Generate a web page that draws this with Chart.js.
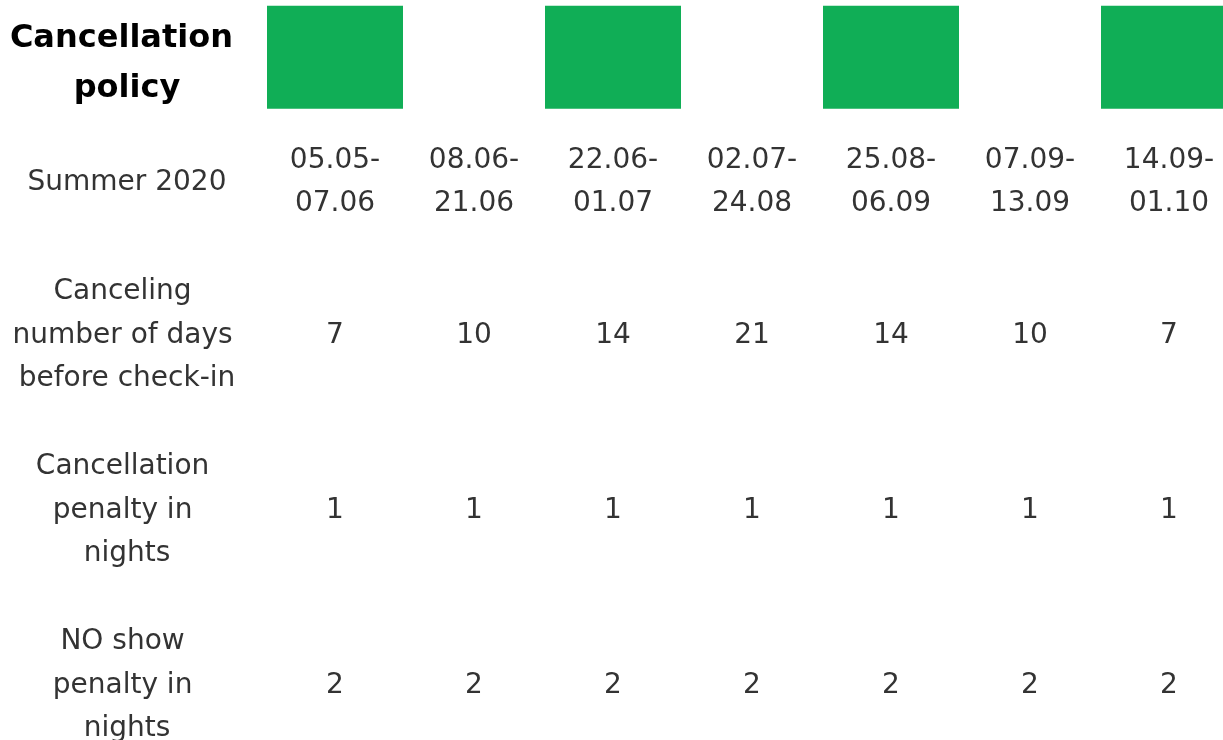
<!DOCTYPE html>
<html>
<head>
<meta charset="utf-8">
<title>Cancellation policy</title>
<script src="https://cdn.jsdelivr.net/npm/chart.js"></script>
<style>
  html, body { margin: 0; padding: 0; background: #fff; overflow: hidden; }
</style>
</head>
<body>
<canvas id="policyChart" width="1240" height="740"></canvas>
<script>
// table content
const headerLabel = ['Cancellation', 'policy'];
const periods = [
  ['05.05-', '07.06'], ['08.06-', '21.06'], ['22.06-', '01.07'], ['02.07-', '24.08'],
  ['25.08-', '06.09'], ['07.09-', '13.09'], ['14.09-', '01.10']
];
const greenMarks = [1, 0, 1, 0, 1, 0, 1];
const daysBefore = [7, 10, 14, 21, 14, 10, 7];
const cancelPenalty = [1, 1, 1, 1, 1, 1, 1];
const noShowPenalty = [2, 2, 2, 2, 2, 2, 2];
const rowLabels = [
  ['Summer 2020'],
  ['Canceling', 'number of days', 'before check-in'],
  ['Cancellation', 'penalty in', 'nights'],
  ['NO show', 'penalty in', 'nights']
];

// layout of the table (pixels on the y scale)
const LINE = 43.5, PAD = 44.5, HEAD_H = 114.5, MARK_H = 103;
const LABEL_X = 127, TEXT_DY = 2;
const FONT = '"DejaVu Sans", sans-serif';

const rowCells = [
  periods,
  daysBefore.map(v => [String(v)]),
  cancelPenalty.map(v => [String(v)]),
  noShowPenalty.map(v => [String(v)])
];

const rowCenters = [HEAD_H / 2];
let rowTop = HEAD_H;
rowLabels.forEach((lab, r) => {
  const n = Math.max(lab.length, ...rowCells[r].map(c => c.length));
  const h = n * LINE + PAD;
  rowCenters.push(rowTop + h / 2);
  rowTop += h;
});

function drawLines(ctx, lines, cx, cy, lh, hang) {
  const start = cy - (lines.length - 1) * lh / 2;
  lines.forEach((t, k) => {
    // wrapped lines keep their trailing space, like the html table did
    const txt = hang && k < lines.length - 1 ? t + ' ' : t;
    ctx.fillText(txt, cx, start + k * lh);
  });
}

const tableText = {
  id: 'tableText',
  afterDatasetsDraw(chart) {
    const ctx = chart.ctx;
    const xs = chart.scales.x, ys = chart.scales.y;
    ctx.save();
    ctx.textAlign = 'center';
    ctx.textBaseline = 'middle';

    ctx.fillStyle = '#000';
    ctx.font = 'bold 32px ' + FONT;
    drawLines(ctx, headerLabel, LABEL_X, ys.getPixelForValue(rowCenters[0] + 4 + TEXT_DY), 50, true);

    ctx.fillStyle = '#333';
    ctx.font = '28px ' + FONT;
    rowLabels.forEach((lab, r) => {
      const cy = ys.getPixelForValue(rowCenters[r + 1] + TEXT_DY);
      drawLines(ctx, lab, LABEL_X, cy, LINE, true);
      rowCells[r].forEach((cell, i) => {
        drawLines(ctx, cell, xs.getPixelForValue(i), cy, LINE, false);
      });
    });
    ctx.restore();
  }
};

new Chart(document.getElementById('policyChart'), {
  type: 'bar',
  data: {
    labels: periods.map(p => p.join('')),
    datasets: [{
      data: greenMarks.map(m => m ? [rowCenters[0] - MARK_H / 2, rowCenters[0] + MARK_H / 2] : null),
      backgroundColor: '#10ae56',
      borderWidth: 0,
      categoryPercentage: 136 / 139,
      barPercentage: 1
    }]
  },
  options: {
    responsive: false,
    animation: false,
    layout: { padding: { left: 265.5, right: 1.5, top: 0, bottom: 0 } },
    scales: {
      x: { display: false },
      y: { type: 'linear', min: 0, max: 740, reverse: true, display: false }
    },
    plugins: { legend: { display: false }, tooltip: { enabled: false } }
  },
  plugins: [tableText]
});
</script>
</body>
</html>
